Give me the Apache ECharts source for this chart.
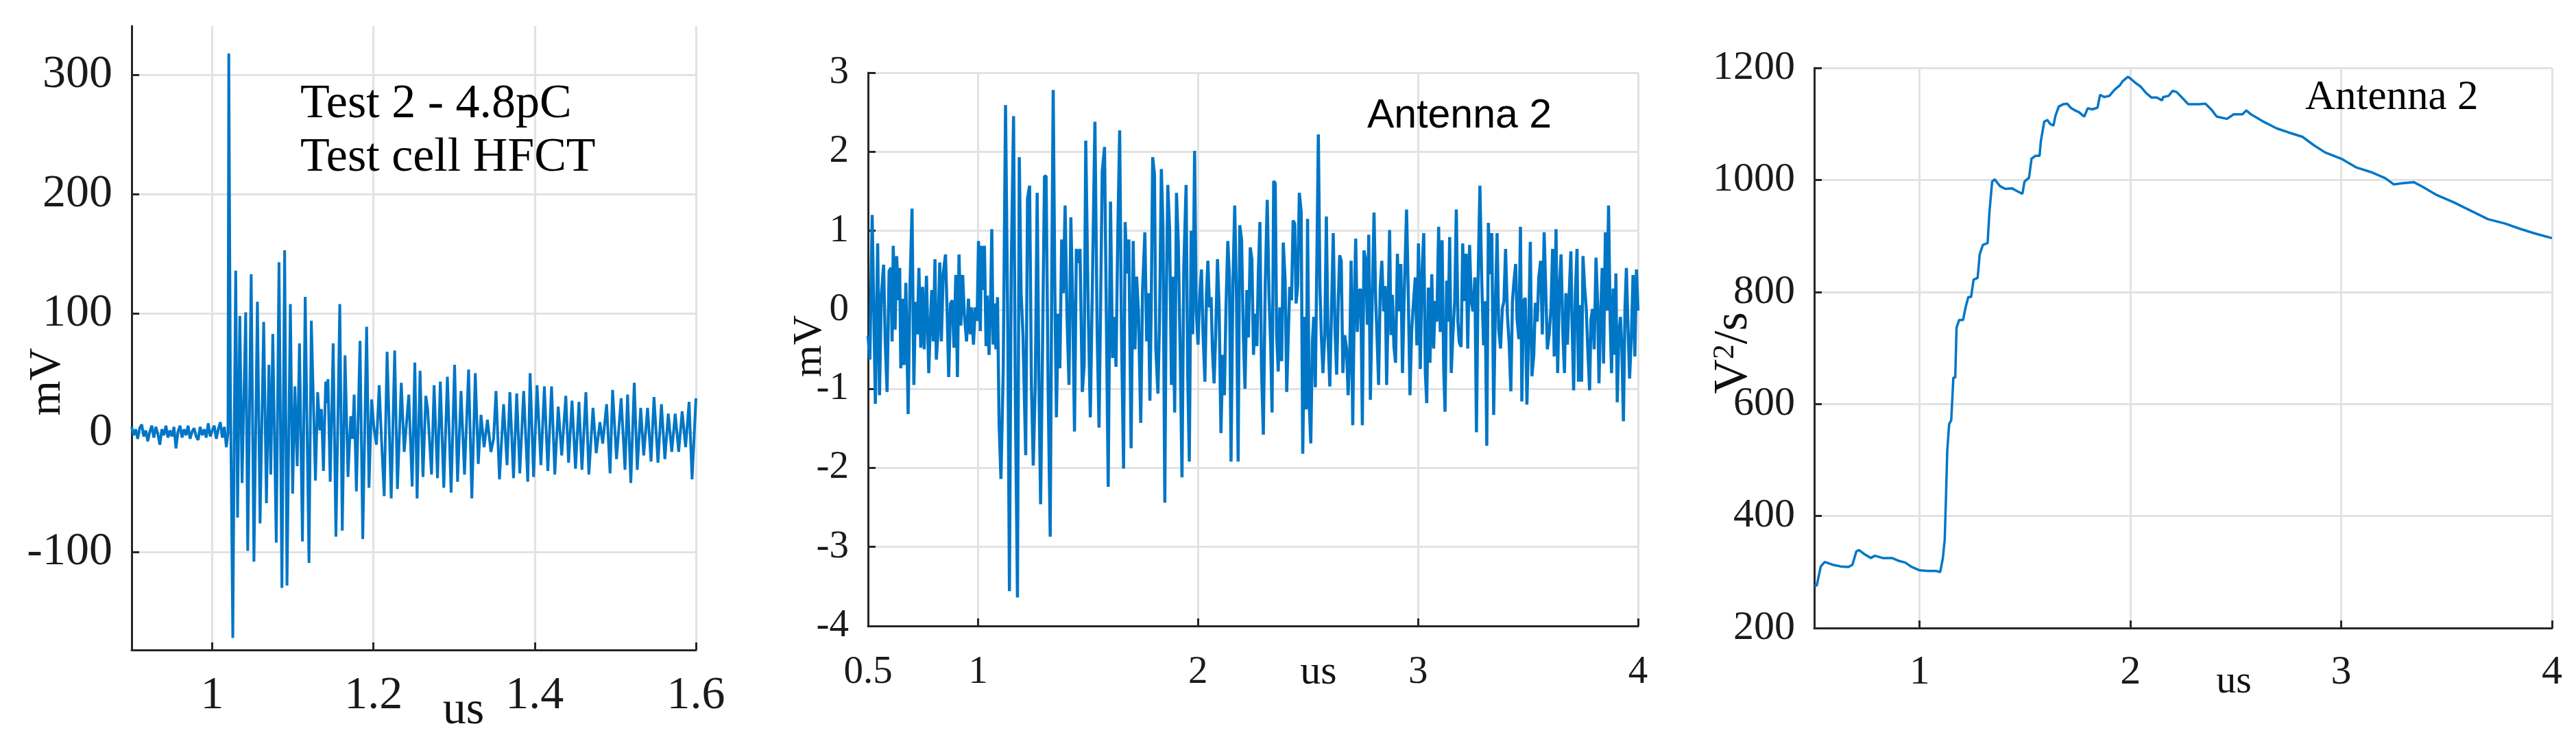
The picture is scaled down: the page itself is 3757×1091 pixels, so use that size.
<!DOCTYPE html>
<html><head><meta charset="utf-8">
<script src="https://cdn.jsdelivr.net/npm/echarts@6/dist/echarts.min.js"></script>
<style>html,body{margin:0;padding:0;background:#fff}#c{width:3757px;height:1091px}</style>
</head><body><div id="c"></div>
<script>
// ---------- data ----------
// Panel 1: HFCT signal, [time (us), mV]
const hfctSignal = [
[0.9,5],[0.9025,-2],[0.905,3],[0.9075,-5],[0.91,4],[0.9125,7],[0.915,-3],[0.9175,2],[0.92,-7],[0.9225,1],
[0.925,6],[0.9275,-4],[0.93,5],[0.9325,-1],[0.935,-10],[0.9375,3],[0.94,-2],[0.9425,6],[0.945,-4],[0.9475,2],
[0.95,-3],[0.9525,5],[0.955,-13],[0.9575,1],[0.96,6],[0.9625,-4],[0.965,3],[0.9675,-2],[0.97,6],[0.9725,-5],
[0.975,1],[0.9775,4],[0.98,-3],[0.9825,-6],[0.985,5],[0.9875,-2],[0.99,3],[0.9925,-4],[0.995,8],[0.9975,-3],
[1.0,2],[1.0025,6],[1.005,-5],[1.0075,3],[1.01,9],[1.0125,-4],[1.015,5],[1.0175,-12],[1.0195,0],[1.0205,318],
[1.0225,40],[1.0255,-172],[1.0275,20],[1.0291,136],[1.0314,-71],[1.0342,98],[1.037,-42],[1.0415,101],[1.044,-99],[1.0483,133],
[1.0517,-108],[1.056,110],[1.0593,-76],[1.0638,93],[1.0672,-59],[1.0703,57],[1.0726,-35],[1.0751,83],[1.0794,-92],[1.0828,143],
[1.0864,-130],[1.0898,153],[1.0927,-128],[1.0969,108],[1.0997,-51],[1.1025,39],[1.1054,-28],[1.1082,75],[1.1119,-91],[1.1153,114],
[1.12,-109],[1.1229,94],[1.128,-40],[1.1308,34],[1.1335,2],[1.1355,20],[1.1379,-32],[1.1407,43],[1.1421,25],[1.1435,45],
[1.1463,-41],[1.15,75],[1.1534,-87],[1.1582,108],[1.1613,-82],[1.1647,65],[1.1684,-37],[1.1718,14],[1.174,-5],[1.176,32],
[1.1788,-49],[1.1833,77],[1.1867,-89],[1.1915,89],[1.1944,-46],[1.1977,28],[1.2006,4],[1.2037,-10],[1.2071,40],[1.2099,-5],
[1.2133,-53],[1.2169,68],[1.222,-55],[1.2263,69],[1.2297,-47],[1.2345,42],[1.2381,-16],[1.2438,32],[1.248,-45],[1.2513,59],
[1.2541,-55],[1.2578,52],[1.2614,-37],[1.2649,31],[1.2672,20],[1.272,-35],[1.2752,40],[1.2794,-38],[1.2829,43],[1.2872,-46],
[1.2917,47],[1.2963,-50],[1.3006,57],[1.3043,-41],[1.3086,35],[1.3129,-35],[1.318,53],[1.322,-55],[1.3263,50],[1.33,-26],
[1.3334,15],[1.3372,-12],[1.3414,11],[1.3457,-16],[1.349,-5],[1.352,35],[1.3563,-39],[1.3614,24],[1.3657,-27],[1.3692,34],
[1.3737,-38],[1.3777,33],[1.3815,-34],[1.3863,35],[1.3914,-41],[1.3943,50],[1.3986,-37],[1.4029,40],[1.4077,-27],[1.412,39],
[1.4163,-32],[1.4209,39],[1.4249,-35],[1.4292,22],[1.4335,-19],[1.4386,31],[1.442,-25],[1.4463,27],[1.4506,-30],[1.4549,26],
[1.4586,-31],[1.4635,34],[1.4672,-35],[1.4723,21],[1.4763,-17],[1.4809,9],[1.4843,-9],[1.4892,24],[1.4935,-34],[1.4966,36],
[1.5015,-22],[1.5072,29],[1.512,-31],[1.5152,32],[1.5192,-42],[1.5235,42],[1.5272,-31],[1.5315,21],[1.5352,-19],[1.54,21],
[1.5443,-24],[1.548,30],[1.5529,-25],[1.5572,24],[1.5615,-22],[1.5657,16],[1.57,-16],[1.5743,16],[1.5786,-16],[1.5829,18],
[1.5872,-12],[1.5915,26],[1.5952,-39],[1.6,29]
];

// Panel 2: antenna signal, [time (us), mV]
const antennaSignal = [
[0.5,-0.33],[0.5083,-0.63],[0.5188,1.2],[0.5333,-1.19],[0.5438,0.84],[0.5521,-1.08],[0.5604,0.18],[0.5708,0.57],[0.5781,-0.4],[0.5865,-1.04],
[0.5958,0.49],[0.6042,0.53],[0.6094,-0.4],[0.6146,0.81],[0.6229,-0.25],[0.6302,0.68],[0.6375,0.12],[0.6438,0.53],[0.649,-0.74],[0.6563,0.14],
[0.6635,-0.7],[0.6719,0.34],[0.6823,-1.32],[0.6906,0.29],[0.7,1.28],[0.7083,-0.95],[0.7156,0.1],[0.724,-0.31],[0.7313,0.53],[0.7396,-0.48],
[0.7479,0.29],[0.7552,-0.5],[0.7656,0.43],[0.776,-0.8],[0.7833,-0.18],[0.7896,0.25],[0.7969,-0.4],[0.8042,0.64],[0.8104,-0.63],[0.8177,-0.31],
[0.826,0.6],[0.8333,-0.4],[0.8417,0.46],[0.8521,0.7],[0.8594,-0.01],[0.8667,-0.85],[0.875,0.08],[0.8833,0.12],[0.8906,-0.48],[0.899,0.44],
[0.9063,-0.85],[0.9135,0.7],[0.9219,-0.2],[0.9302,0.44],[0.9375,-0.05],[0.9479,-0.4],[0.9563,0.14],[0.9646,-0.31],[0.9708,0.03],[0.9792,-0.44],
[0.9875,0.03],[0.9958,-0.14],[1.0021,0.87],[1.0104,-0.27],[1.0156,0.81],[1.0229,0.25],[1.0292,0.81],[1.0365,-0.46],[1.0417,0.18],[1.05,-0.57],
[1.0573,0.16],[1.0625,1.02],[1.0688,-0.44],[1.075,0.08],[1.0813,-0.5],[1.0885,0.16],[1.0958,-1.45],[1.1042,-2.14],[1.1146,-0.74],[1.125,2.59],
[1.1354,-0.31],[1.1427,-3.56],[1.151,0.55],[1.1615,2.45],[1.1698,-1.17],[1.1792,-3.64],[1.1875,1.93],[1.1958,0.21],[1.2042,-0.31],[1.2167,-1.84],
[1.225,1.41],[1.2344,1.57],[1.2427,-0.95],[1.251,-1.97],[1.2604,-0.91],[1.2688,1.48],[1.2771,-1.0],[1.2844,-2.46],[1.2917,-0.83],[1.3021,1.69],
[1.3094,1.69],[1.3188,-1.04],[1.3281,-2.87],[1.3354,0.55],[1.3417,2.78],[1.349,0.29],[1.3563,-1.36],[1.3646,-0.05],[1.3719,-0.74],[1.3802,0.89],
[1.3875,0.21],[1.3958,1.32],[1.4042,-0.05],[1.4135,-0.95],[1.4219,1.17],[1.4302,0.1],[1.4385,-1.54],[1.4469,0.77],[1.4552,0.59],[1.4635,0.77],
[1.474,-1.04],[1.4823,-0.7],[1.4896,2.14],[1.5,0.14],[1.5104,-1.36],[1.5313,2.38],[1.5417,-0.31],[1.55,-1.49],[1.5573,0.12],[1.5646,1.75],
[1.575,2.06],[1.5833,-0.09],[1.5917,-2.24],[1.6021,1.37],[1.6115,-0.61],[1.6198,-0.09],[1.6271,-0.72],[1.6354,0.98],[1.6438,2.27],[1.6521,-0.31],
[1.6615,-2.01],[1.6688,1.11],[1.6771,0.46],[1.6854,0.89],[1.6958,-1.75],[1.7052,0.87],[1.7135,-0.5],[1.7208,0.42],[1.7292,-0.03],[1.7396,-1.43],
[1.7479,0.25],[1.7583,0.98],[1.7667,-0.4],[1.774,0.21],[1.7813,-1.15],[1.7875,0.08],[1.7938,1.93],[1.8021,1.71],[1.8083,-0.5],[1.8177,-1.06],
[1.825,-0.14],[1.8333,1.78],[1.8406,1.07],[1.849,-2.44],[1.8542,-0.22],[1.8625,1.58],[1.8708,1.02],[1.8792,-0.95],[1.8854,0.42],[1.8938,-1.3],
[1.9021,1.48],[1.9104,0.83],[1.9188,-0.52],[1.9271,-2.12],[1.9354,0.55],[1.9458,1.58],[1.9531,-0.83],[1.9604,-1.92],[1.9688,1.0],[1.976,-0.31],
[1.9844,2.01],[1.9917,-0.01],[2.0,-0.44],[2.0073,0.16],[2.0156,0.51],[2.0229,-0.31],[2.0313,-0.91],[2.0385,0.21],[2.0448,0.62],[2.0521,0.03],
[2.0594,0.16],[2.0656,-0.52],[2.0729,-0.93],[2.0802,-0.31],[2.0885,0.64],[2.0958,0.03],[2.1042,-1.56],[2.1125,-0.57],[2.1198,-1.08],[2.1271,0.03],
[2.1354,0.87],[2.1427,0.42],[2.15,-1.92],[2.1583,0.29],[2.1667,1.32],[2.175,0.12],[2.1823,-1.92],[2.1896,1.07],[2.1979,0.89],[2.2063,-0.35],
[2.2135,-1.0],[2.2219,0.25],[2.2292,-0.35],[2.2375,0.79],[2.2448,0.64],[2.2521,-0.57],[2.2604,-0.05],[2.2677,-0.46],[2.274,0.46],[2.2813,1.11],
[2.2885,-0.74],[2.2969,-1.58],[2.3052,0.29],[2.3146,1.39],[2.3229,0.16],[2.3302,-0.44],[2.3365,-1.3],[2.3438,1.63],[2.351,1.6],[2.3573,-0.31],
[2.3646,-0.78],[2.3719,0.03],[2.3802,-0.65],[2.3875,0.85],[2.3958,0.38],[2.4031,-1.04],[2.4104,-0.31],[2.4167,0.29],[2.425,0.12],[2.4323,1.13],
[2.4396,1.09],[2.4458,0.08],[2.4531,0.31],[2.4604,1.48],[2.4688,1.24],[2.476,-1.82],[2.4844,-0.09],[2.4917,-1.26],[2.4979,1.15],[2.5052,-1.17],
[2.5125,-1.69],[2.5198,-0.4],[2.526,-0.09],[2.5333,-0.98],[2.5469,2.22],[2.5542,0.28],[2.5604,-0.32],[2.5677,-0.8],[2.576,-0.32],[2.5833,1.18],
[2.5906,-0.32],[2.599,-0.97],[2.6063,-0.06],[2.6146,0.97],[2.6229,-0.28],[2.6302,-0.82],[2.6375,0.11],[2.6438,0.69],[2.651,0.62],[2.6583,-0.8],
[2.6667,-0.32],[2.675,-0.49],[2.6823,-1.08],[2.6896,-0.58],[2.6958,0.62],[2.7031,-1.46],[2.7104,0.11],[2.7167,0.9],[2.724,-0.28],[2.7323,0.24],
[2.7396,0.26],[2.7469,-1.46],[2.7542,0.75],[2.7625,0.62],[2.7698,-0.19],[2.776,0.95],[2.7833,-1.14],[2.7917,0.11],[2.8,1.23],[2.8073,0.15],
[2.8146,-0.41],[2.8208,-0.95],[2.8281,0.28],[2.8354,0.62],[2.8438,-0.02],[2.851,0.3],[2.8573,-0.95],[2.8646,0.11],[2.8708,1.01],[2.8771,-0.32],
[2.8833,0.19],[2.8906,-0.47],[2.8979,-0.67],[2.9063,0.71],[2.9135,-0.02],[2.9219,0.58],[2.9292,-0.8],[2.9375,0.22],[2.9479,1.27],[2.9552,0.28],
[2.9635,-1.08],[2.9708,-0.28],[2.9792,0.09],[2.9875,0.41],[2.9948,-0.45],[3.0021,0.84],[3.0104,-0.75],[3.0177,0.45],[3.026,0.97],[3.0333,-0.8],
[3.0396,-1.18],[3.0469,0.28],[3.0542,-0.67],[3.0625,0.45],[3.0708,-0.49],[3.0781,0.11],[3.0854,-0.15],[3.0938,1.05],[3.101,-0.28],[3.1094,0.88],
[3.1167,-0.75],[3.1229,-1.29],[3.1302,0.37],[3.1375,-0.15],[3.1438,0.92],[3.151,-0.8],[3.1583,-0.32],[3.1667,0.11],[3.174,1.27],[3.1813,-0.15],
[3.1875,-0.41],[3.1958,-0.47],[3.2031,0.84],[3.2104,0.11],[3.2188,0.71],[3.226,-0.49],[3.2344,0.82],[3.2417,0.11],[3.25,-0.02],[3.2583,0.41],
[3.2656,-1.55],[3.2729,0.37],[3.2813,1.57],[3.2896,0.37],[3.2979,-0.45],[3.3052,0.11],[3.3125,-1.72],[3.3198,1.1],[3.3271,0.45],[3.3354,0.97],
[3.3438,-1.33],[3.3521,0.11],[3.3594,0.97],[3.3667,-0.24],[3.375,-0.49],[3.3833,0.02],[3.3906,0.11],[3.3979,0.77],[3.4063,-0.06],[3.4146,-0.45],
[3.4219,-1.03],[3.4292,0.11],[3.4354,0.34],[3.4438,0.58],[3.45,-0.11],[3.4583,-0.37],[3.4656,1.05],[3.4719,-1.16],[3.4792,0.11],[3.4875,0.15],
[3.4948,-1.2],[3.5021,-0.41],[3.5104,0.86],[3.5177,-0.84],[3.526,-0.58],[3.5333,0.09],[3.5417,-0.15],[3.549,0.41],[3.5573,0.62],[3.565,-0.31],
[3.5733,0.98],[3.5806,0.25],[3.5878,-0.5],[3.5962,-0.31],[3.6045,0.03],[3.6117,0.77],[3.619,-0.59],[3.6273,1.02],[3.6346,-0.8],[3.6429,0.29],
[3.6502,0.7],[3.6585,-0.31],[3.6657,-0.8],[3.672,0.21],[3.6792,-0.44],[3.6865,0.16],[3.6948,0.74],[3.7,-0.14],[3.7073,-1.02],[3.7156,0.25],
[3.7228,0.77],[3.7291,-0.91],[3.7363,0.06],[3.7436,-0.91],[3.7498,0.68],[3.7571,0.29],[3.7644,0.03],[3.7727,-0.57],[3.7799,-1.02],[3.7862,-0.12],
[3.7935,0.01],[3.8007,-0.5],[3.809,0.66],[3.8163,0.08],[3.8225,-0.93],[3.8298,-0.09],[3.8371,0.53],[3.8433,-0.68],[3.8516,0.98],[3.8589,-0.01],
[3.8661,1.32],[3.8734,-0.14],[3.8796,-0.8],[3.8869,0.27],[3.8942,-0.57],[3.8994,0.46],[3.9056,-1.17],[3.9129,-0.31],[3.9201,-0.09],[3.9264,-0.48],
[3.9336,-1.41],[3.9409,0.03],[3.9471,0.53],[3.9544,-0.22],[3.9617,-0.87],[3.97,-0.31],[3.9773,0.44],[3.9856,-0.59],[3.9928,0.51],[4.0,-0.01]
];

// Panel 3: antenna energy, [time (us), V^2/s]
const antennaEnergy = [
[0.5,276],[0.512,276],[0.531,310],[0.55,318],[0.5875,313],[0.625,310],[0.6625,309],[0.681,313],[0.7,337],[0.7125,339],
[0.7375,332],[0.769,325],[0.7875,329],[0.825,325],[0.869,325],[0.9,320],[0.931,317],[0.9625,309],[1.0,303],[1.0375,302],
[1.075,302],[1.0975,300],[1.11,324],[1.119,358],[1.125,434],[1.131,516],[1.14,564],[1.15,571],[1.16,647],[1.169,647],
[1.175,736],[1.1875,750],[1.206,750],[1.219,774],[1.231,791],[1.244,791],[1.256,822],[1.275,825],[1.285,867],[1.3,884],
[1.3225,887],[1.331,942],[1.344,997],[1.356,1001],[1.381,989],[1.406,984],[1.4375,985],[1.4625,980],[1.4875,975],[1.4975,997],
[1.519,1004],[1.531,1038],[1.55,1043],[1.569,1043],[1.575,1069],[1.591,1104],[1.606,1107],[1.619,1100],[1.635,1097],[1.644,1114],
[1.66,1131],[1.681,1135],[1.7,1136],[1.719,1128],[1.7375,1124],[1.756,1121],[1.781,1113],[1.7975,1128],[1.819,1126],[1.844,1129],
[1.856,1152],[1.875,1148],[1.9,1150],[1.925,1161],[1.95,1169],[1.9625,1176],[1.9875,1184],[2.0,1181],[2.025,1173],[2.05,1166],
[2.075,1155],[2.1,1147],[2.125,1147],[2.15,1142],[2.156,1148],[2.181,1150],[2.2,1159],[2.219,1157],[2.25,1145],[2.275,1135],
[2.3,1135],[2.325,1135],[2.356,1136],[2.3875,1124],[2.409,1113],[2.458,1109],[2.49,1117],[2.531,1117],[2.55,1124],[2.572,1117],
[2.626,1105],[2.694,1092],[2.748,1085],[2.816,1077],[2.87,1062],[2.924,1049],[3.005,1037],[3.073,1022],[3.141,1014],[3.209,1003],
[3.249,992],[3.29,994],[3.344,996],[3.385,988],[3.453,973],[3.534,960],[3.615,945],[3.696,930],[3.778,922],[3.846,913],
[3.913,905],[4.0,896]
];

// axis ranges and tick steps: [min, max, step]
const hfctX = [0.9, 1.6, 0.2];
const hfctY = [-182, 341, 100];
const antX = [0.5, 4, 1];
const antY = [-4, 3, 1];
const enX = [0.5, 4, 1];
const enY = [200, 1200, 200];

// texts
const hfctNote = ['Test 2 - 4.8pC', 'Test cell HFCT'];
const antLabel = 'Antenna 2';
const unitMv = 'mV';
const unitUs = 'us';

// ---------- chart ----------
const SERIF = '"Liberation Serif", "Times New Roman", serif';
const SANS = '"Liberation Sans", Arial, sans-serif';
const AX = '#262626';
const GRIDC = '#e2e2e2';
const LINEC = '#0076c6';

function axis(gi, r, fontSize, margin, opts) {
  opts = opts || {};
  return {
    type: 'value', gridIndex: gi, min: r[0], max: r[1],
    minInterval: r[2], maxInterval: r[2], splitNumber: Math.round((r[1] - r[0]) / r[2]),
    axisLine: { show: true, onZero: false, lineStyle: { color: AX, width: 3 } },
    axisTick: { show: true, inside: true, length: 11, lineStyle: { color: AX, width: 3 } },
    axisLabel: {
      show: true, margin: margin, color: '#1a1a1a', fontFamily: SERIF, fontSize: fontSize,
      showMinLabel: opts.showMin !== false, showMaxLabel: opts.showMax !== false,
      formatter: function (v) { return String(+(+v).toFixed(6)); }
    },
    splitLine: { show: true, showMinLine: false, showMaxLine: opts.maxLine !== false,
      lineStyle: { color: GRIDC, width: 3 } }
  };
}

function lineSeries(i, data, w) {
  return {
    type: 'line', xAxisIndex: i, yAxisIndex: i, data: data,
    showSymbol: false, symbol: 'none', animation: false, silent: true,
    lineStyle: { color: LINEC, width: w }, clip: true, z: 3
  };
}

function txt(text, x, y, font, size, opts) {
  opts = opts || {};
  return {
    type: 'text', x: x, y: y, rotation: opts.rot || 0, z: 100, silent: true,
    style: {
      text: text, x: 0, y: 0, fill: opts.color || '#111',
      fontFamily: font, fontSize: size,
      textAlign: opts.align || 'left', align: opts.align || 'left',
      textVerticalAlign: 'middle', verticalAlign: 'middle',
      rich: opts.rich
    }
  };
}

const chart = echarts.init(document.getElementById('c'), null, { renderer: 'canvas', width: 3757, height: 1091 });

const option = {
  backgroundColor: '#ffffff',
  animation: false,
  grid: [
    { left: 192, top: 38, width: 823, height: 910, containLabel: false, outerBoundsMode: 'none' },
    { left: 1266, top: 106, width: 1123, height: 807, containLabel: false, outerBoundsMode: 'none' },
    { left: 2646, top: 99, width: 1076, height: 817, containLabel: false, outerBoundsMode: 'none' }
  ],
  xAxis: [
    axis(0, hfctX, 68, 33, { showMin: false }),
    axis(1, antX, 57, 40, {}),
    axis(2, enX, 60, 35, { showMin: false })
  ],
  yAxis: [
    axis(0, hfctY, 68, 28, { showMin: false, showMax: false, maxLine: false }),
    axis(1, antY, 57, 28, {}),
    axis(2, enY, 60, 28, {})
  ],
  series: [
    lineSeries(0, hfctSignal, 4),
    lineSeries(1, antennaSignal, 4.5),
    lineSeries(2, antennaEnergy, 3.5)
  ],
  graphic: [
    txt(hfctNote[0], 438, 153, SERIF, 70, {color: '#000'}),
    txt(hfctNote[1], 438, 231, SERIF, 70, {color: '#000'}),
    txt(unitMv, 70, 557, SERIF, 66, { rot: Math.PI / 2, align: 'center' }),
    txt(unitUs, 676, 1037, SERIF, 68, { align: 'center' }),
    txt(antLabel, 1994, 170, SANS, 59, {color: '#000'}),
    txt(unitMv, 1181, 505, SERIF, 60, { rot: Math.PI / 2, align: 'center' }),
    txt(unitUs, 1923, 981, SERIF, 60, { align: 'center' }),
    txt(antLabel, 3362, 143, SERIF, 61, {color: '#000'}),
    txt('{v|V}{s|2}{v|/s}', 2529, 515, SERIF, 70, { rot: Math.PI / 2, align: 'center',
      rich: { v: { fontFamily: SERIF, fontSize: 70, fill: '#111', verticalAlign: 'bottom' },
              s: { fontFamily: SERIF, fontSize: 44, fill: '#111', verticalAlign: 'top' } } }),
    txt(unitUs, 3258, 995, SERIF, 58, { align: 'center' })
  ]
};
chart.setOption(option);
</script>
</body></html>
